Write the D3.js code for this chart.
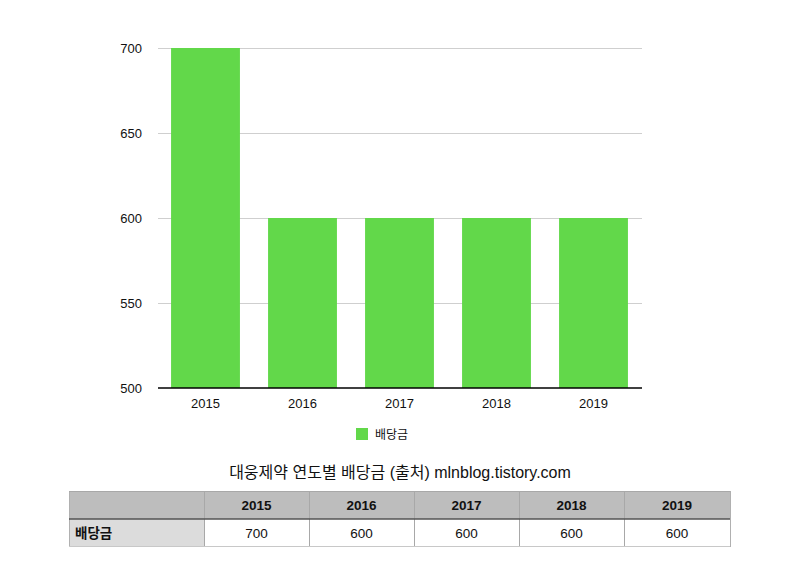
<!DOCTYPE html>
<html lang="ko">
<head>
<meta charset="UTF-8"/>
<title>대웅제약 연도별 배당금</title>
<script src="https://cdn.jsdelivr.net/npm/d3@7"></script>
<style>
  body { margin: 0; background: #fff; font-family: "Liberation Sans", Arial, "Noto Sans CJK KR", sans-serif; }
  svg text { font-family: "Liberation Sans", Arial, "Noto Sans CJK KR", sans-serif; }
</style>
</head>
<body>
<script>
// data
var years = ["2015", "2016", "2017", "2018", "2019"];
var dividends = [700, 600, 600, 600, 600];
var yTicks = [500, 550, 600, 650, 700];
var seriesName = "배당금";
var title = "대웅제약 연도별 배당금 (출처) mlnblog.tistory.com";

var W = 800, H = 587;
var svg = d3.select("body").append("svg").attr("width", W).attr("height", H);

var x = d3.scaleBand().domain(years).range([157, 642]).paddingInner(0.29).paddingOuter(0.145);
var y = d3.scaleLinear().domain([500, 700]).range([388, 48]);

// grid lines
svg.append("g").selectAll("line").data(yTicks.slice(1)).enter().append("line")
  .attr("x1", 158).attr("x2", 642)
  .attr("y1", function(d) { return y(d) + 0.5; }).attr("y2", function(d) { return y(d) + 0.5; })
  .attr("stroke", "#cfcfcf").attr("stroke-width", 1);

// bars
svg.append("g").selectAll("rect").data(dividends).enter().append("rect")
  .attr("x", function(d, i) { return x(years[i]); })
  .attr("width", x.bandwidth())
  .attr("y", function(d) { return y(d); })
  .attr("height", function(d) { return y(500) - y(d); })
  .attr("fill", "#62d84a");

// baseline
svg.append("line").attr("x1", 158).attr("x2", 642).attr("y1", 388).attr("y2", 388)
  .attr("stroke", "#000").attr("stroke-width", 1.3);

// y labels
svg.append("g").selectAll("text").data(yTicks).enter().append("text")
  .attr("x", 142).attr("y", function(d) { return y(d); })
  .attr("dy", "0.35em").attr("text-anchor", "end")
  .attr("font-size", 13).attr("fill", "#111")
  .text(function(d) { return d; });

// x labels
svg.append("g").selectAll("text").data(years).enter().append("text")
  .attr("x", function(d) { return x(d) + x.bandwidth() / 2; }).attr("y", 408)
  .attr("text-anchor", "middle").attr("font-size", 13).attr("fill", "#111")
  .text(function(d) { return d; });

// legend
svg.append("rect").attr("x", 356).attr("y", 428).attr("width", 12).attr("height", 12).attr("fill", "#62d84a");
svg.append("text").attr("x", 375).attr("y", 439).attr("font-size", 12).attr("fill", "#111").text(seriesName);

// title
svg.append("text").attr("x", 400).attr("y", 478).attr("text-anchor", "middle")
  .attr("font-size", 16).attr("fill", "#111").text(title);

// table
var colX = [69, 204, 309, 414, 519, 624, 730];
var rowY = [491, 519, 547];
var t = svg.append("g");
t.append("rect").attr("x", colX[0]).attr("y", rowY[0]).attr("width", colX[6] - colX[0]).attr("height", rowY[1] - rowY[0]).attr("fill", "#bdbdbd");
t.append("rect").attr("x", colX[0]).attr("y", rowY[1]).attr("width", colX[1] - colX[0]).attr("height", rowY[2] - rowY[1]).attr("fill", "#dcdcdc");
// vertical lines
t.selectAll("line.v").data(colX).enter().append("line").attr("class", "v")
  .attr("x1", function(d) { return d + 0.5; }).attr("x2", function(d) { return d + 0.5; })
  .attr("y1", rowY[0]).attr("y2", rowY[2])
  .attr("stroke", function(d, i) { return i == 0 || i == 6 ? "#b0b0b0" : "#a8a8a8"; });
t.append("line").attr("x1", colX[0]).attr("x2", colX[6]).attr("y1", rowY[0] + 0.5).attr("y2", rowY[0] + 0.5).attr("stroke", "#a8a8a8");
t.append("line").attr("x1", colX[0]).attr("x2", colX[6]).attr("y1", rowY[1]).attr("y2", rowY[1]).attr("stroke", "#555").attr("stroke-width", 1.5);
t.append("line").attr("x1", colX[0]).attr("x2", colX[6]).attr("y1", rowY[2] - 0.5).attr("y2", rowY[2] - 0.5).attr("stroke", "#c8c8c8");
// header texts
t.selectAll("text.h").data(years).enter().append("text").attr("class", "h")
  .attr("x", function(d, i) { return (colX[i + 1] + colX[i + 2]) / 2; }).attr("y", 510)
  .attr("text-anchor", "middle").attr("font-size", 13.5).attr("font-weight", "bold").attr("fill", "#111")
  .text(function(d) { return d; });
t.append("text").attr("x", 75).attr("y", 538).attr("font-size", 13.5).attr("font-weight", "bold").attr("fill", "#111").text(seriesName);
t.selectAll("text.d").data(dividends).enter().append("text").attr("class", "d")
  .attr("x", function(d, i) { return (colX[i + 1] + colX[i + 2]) / 2; }).attr("y", 538)
  .attr("text-anchor", "middle").attr("font-size", 13.5).attr("fill", "#111")
  .text(function(d) { return d; });
</script>
</body>
</html>
